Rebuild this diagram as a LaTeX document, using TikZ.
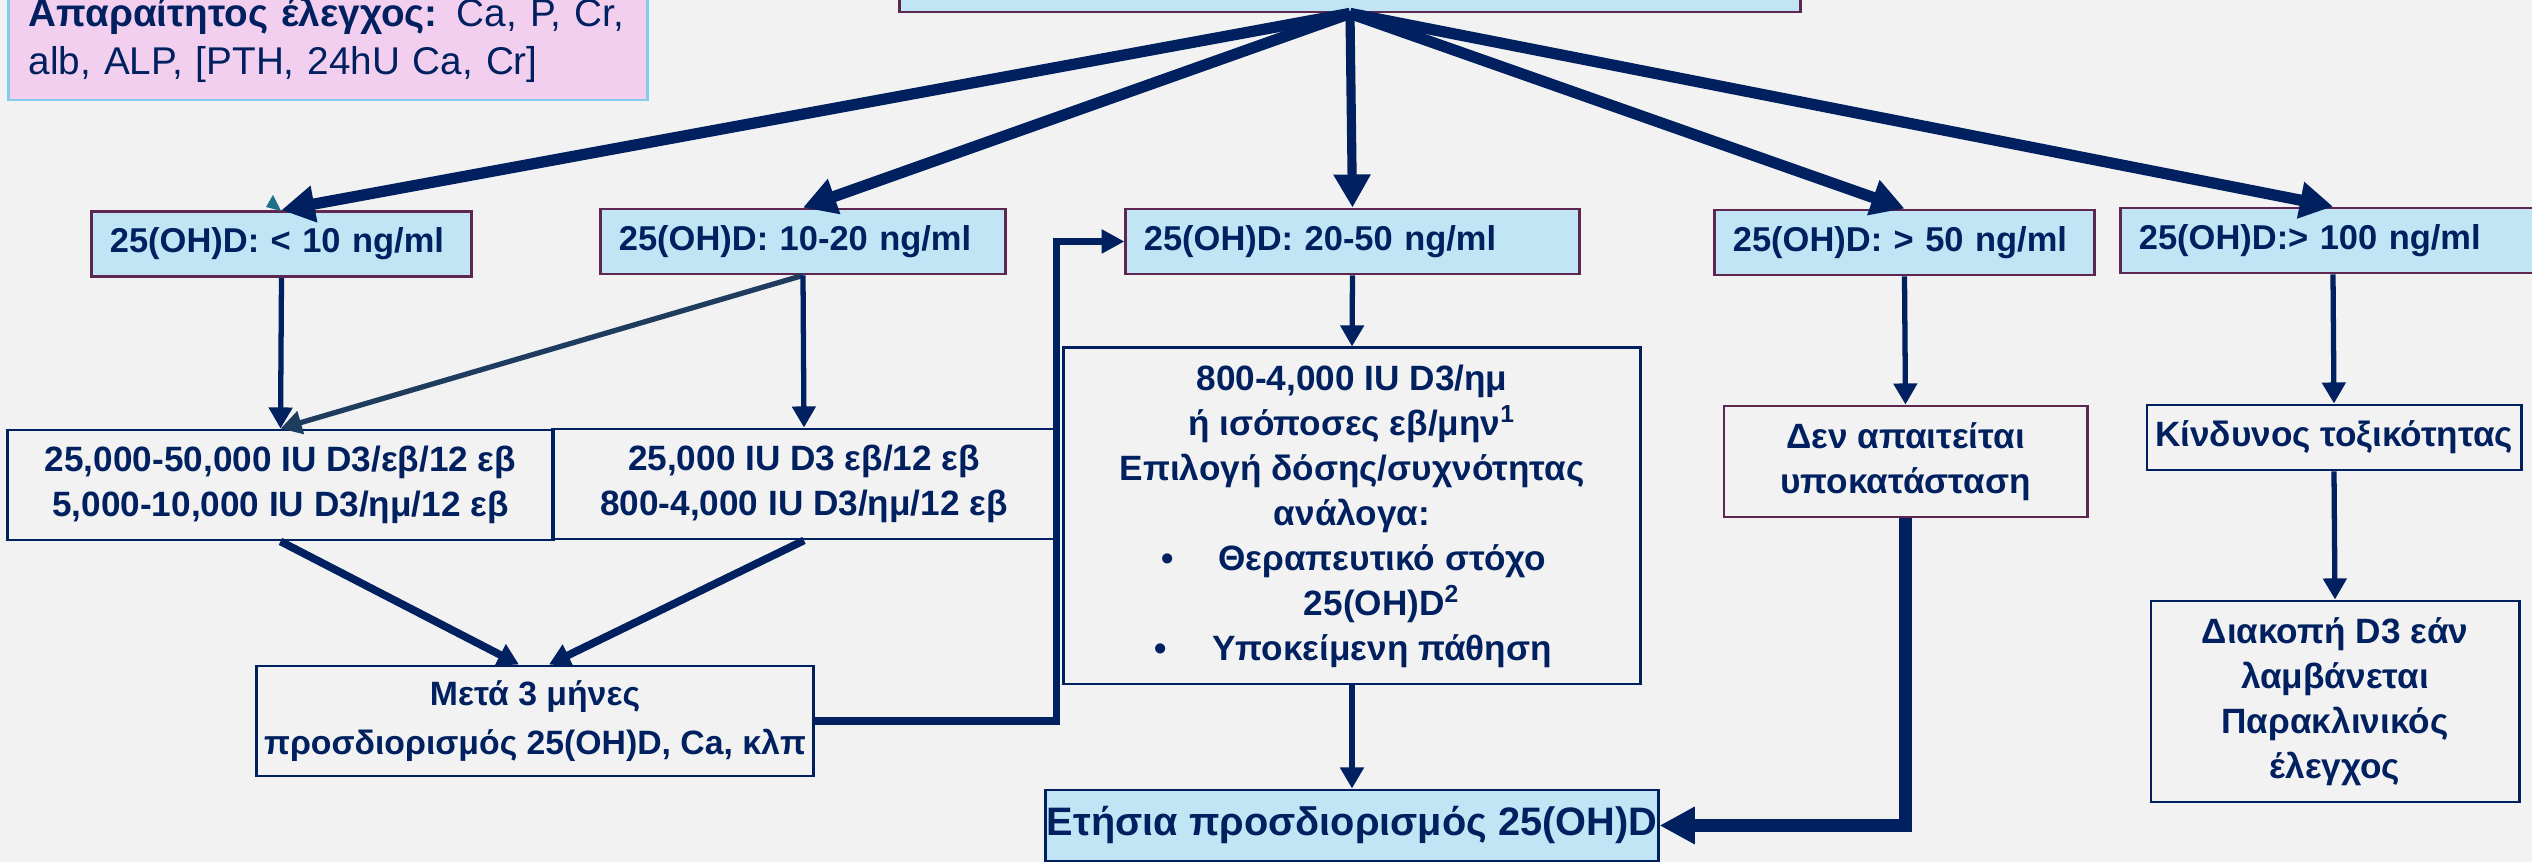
\documentclass[tikz,border=0pt]{standalone}
\usepackage{fontspec}
\setmainfont{Liberation Sans}
\usetikzlibrary{arrows.meta,calc}
\definecolor{navy}{HTML}{002060}
\definecolor{lightblue}{HTML}{C1E5F5}
\definecolor{boxpurple}{HTML}{5E2750}
\definecolor{pinkfill}{HTML}{F2CFEE}
\definecolor{pinkline}{HTML}{83CBEB}
\definecolor{bggray}{HTML}{F2F2F2}
\definecolor{steel}{HTML}{1E3D5E}
\definecolor{tealmark}{HTML}{1F6E8C}

\begin{document}
\begin{tikzpicture}[x=0.01cm, y=-0.01cm,
  level/.style={draw=boxpurple, fill=lightblue, line width=0.8pt, inner xsep=0.18cm, inner ysep=0pt,
    align=left, text=navy, minimum height=0.65cm, font=\bfseries\fontsize{9.8}{12.8}\selectfont},
  dose/.style={draw=navy, line width=0.8pt, inner sep=0pt, align=center, text=navy,
    font=\bfseries\fontsize{10}{12.8}\selectfont},
  bigarrow/.style={navy, line width=3.2pt, -{Triangle[length=9.4pt, width=10pt]}},
  thinarrow/.style={navy, line width=1.5pt, -{Triangle[length=6pt, width=6.5pt]}},
  midarrow/.style={navy, line width=2.2pt, -{Triangle[length=6pt, width=6.5pt]}}]
  \useasboundingbox (0,0) rectangle (2532,862);
  \clip (0,0) rectangle (2532,862);
  \fill[bggray] (0,0) rectangle (2532,862);

  % top row
  \node[level, minimum width=9cm, minimum height=0.9cm] (top) at (1350,-33) {};
  \node[draw=pinkline, fill=pinkfill, line width=0.8pt, inner xsep=0.2cm, text width=5.98cm,
    minimum height=1.2cm, align=left, text=navy, font=\fontsize{11}{13.7}\selectfont] (check) at (328,40)
    {\textbf{Απαραίτητος έλεγχος:} Ca, P, Cr,\\ alb, ALP, [PTH, 24hU Ca, Cr]};

  % levels
  \node[level, text width=3.43cm] (lt10) at (281.5,244) {25(OH)D: < 10 ng/ml};
  \node[level, text width=3.68cm] (b1020) at (803,241.5) {25(OH)D: 10-20 ng/ml};
  \node[level, text width=4.17cm] (b2050) at (1352.5,241.5) {25(OH)D: 20-50 ng/ml};
  \node[level, text width=3.43cm] (gt50) at (1904.5,242.5) {25(OH)D: > 50 ng/ml};
  \node[level, text width=3.88cm] (gt100) at (2333,240.5) {25(OH)D:> 100 ng/ml};
  \fill[tealmark] (273,195) -- (266,207) -- (281,211) -- cycle;

  % doses
  \node[dose, minimum width=5.45cm, minimum height=1.1cm] (dA) at (280.5,485)
    {25,000-50,000 IU D3/εβ/12 εβ\\ 5,000-10,000 IU D3/ημ/12 εβ};
  \node[dose, minimum width=5.02cm, minimum height=1.1cm] (dB) at (804,484)
    {25,000 IU D3 εβ/12 εβ\\ 800-4,000 IU D3/ημ/12 εβ};
  \node[dose, minimum width=5.76cm, minimum height=3.36cm] (plan) at (1352,516)
    {800-4,000 IU D3/ημ\\
     ή ισόποσες εβ/μην\textsuperscript{1}\\
     Επιλογή δόσης/συχνότητας\\
     ανάλογα:\\
     \hspace*{0.6cm}\llap{•\hspace{0.45cm}}Θεραπευτικό στόχο\\
     \hspace*{0.6cm}25(OH)D\textsuperscript{2}\\
     \hspace*{0.6cm}\llap{•\hspace{0.45cm}}Υποκείμενη πάθηση};
  \node[dose, draw=boxpurple, minimum width=3.63cm, minimum height=1.11cm] (none) at (1905.5,461.5)
    {Δεν απαιτείται\\ υποκατάσταση};
  \node[dose, minimum width=3.74cm, minimum height=0.65cm] (risk) at (2334,437.5) {Κίνδυνος τοξικότητας};
  \node[dose, minimum width=3.68cm, minimum height=2.01cm] (stop) at (2335,701.5)
    {Διακοπή D3 εάν\\ λαμβάνεται\\ Παρακλινικός\\ έλεγχος};
  \node[dose, minimum width=5.56cm, minimum height=1.1cm, font=\bfseries\fontsize{9.6}{13.9}\selectfont] (meta) at (535,721)
    {Μετά 3 μήνες\\ προσδιορισμός 25(OH)D, Ca, κλπ};
  \node[level, fill=lightblue, draw=navy, align=center, inner xsep=0pt, minimum width=6.12cm, minimum height=0.71cm,
    font=\bfseries\fontsize{11.3}{14}\selectfont] (yearly) at (1352,825.5) {Ετήσια προσδιορισμός 25(OH)D};

  % connectors
  \draw[bigarrow] (top.south) -- (lt10.north);
  \draw[bigarrow] (top.south) -- (b1020.north);
  \draw[bigarrow, line width=2.6pt] (top.south) -- (b2050.north);
  \draw[bigarrow] (top.south) -- (gt50.north);
  \draw[bigarrow] (top.south) -- (gt100.north);

  \draw[thinarrow] (lt10.south) -- (dA.north);
  \draw[thinarrow, steel] (b1020.south) -- (dA.north);
  \draw[thinarrow] (b1020.south) -- (dB.north);
  \draw[midarrow] (dA.south) -- ($(meta.north)+(-16,0)$);
  \draw[midarrow] (dB.south) -- ($(meta.north)+(14,0)$);
  \draw[navy, line width=2.2pt, -{Triangle[length=6.5pt, width=6.5pt]}] (meta.east) -- (meta.east -| dB.east) |- (b2050.west);
  \draw[thinarrow] (b2050.south) -- (plan.north);
  \draw[thinarrow] (plan.south) -- (yearly.north);
  \draw[thinarrow] (gt50.south) -- (none.north);
  \draw[navy, line width=3.6pt, -{Triangle[length=10pt, width=10pt]}] (none.south) |- (yearly.east);
  \draw[thinarrow] (gt100.south) -- (risk.north);
  \draw[thinarrow] (risk.south) -- (stop.north);
\end{tikzpicture}
\end{document}
